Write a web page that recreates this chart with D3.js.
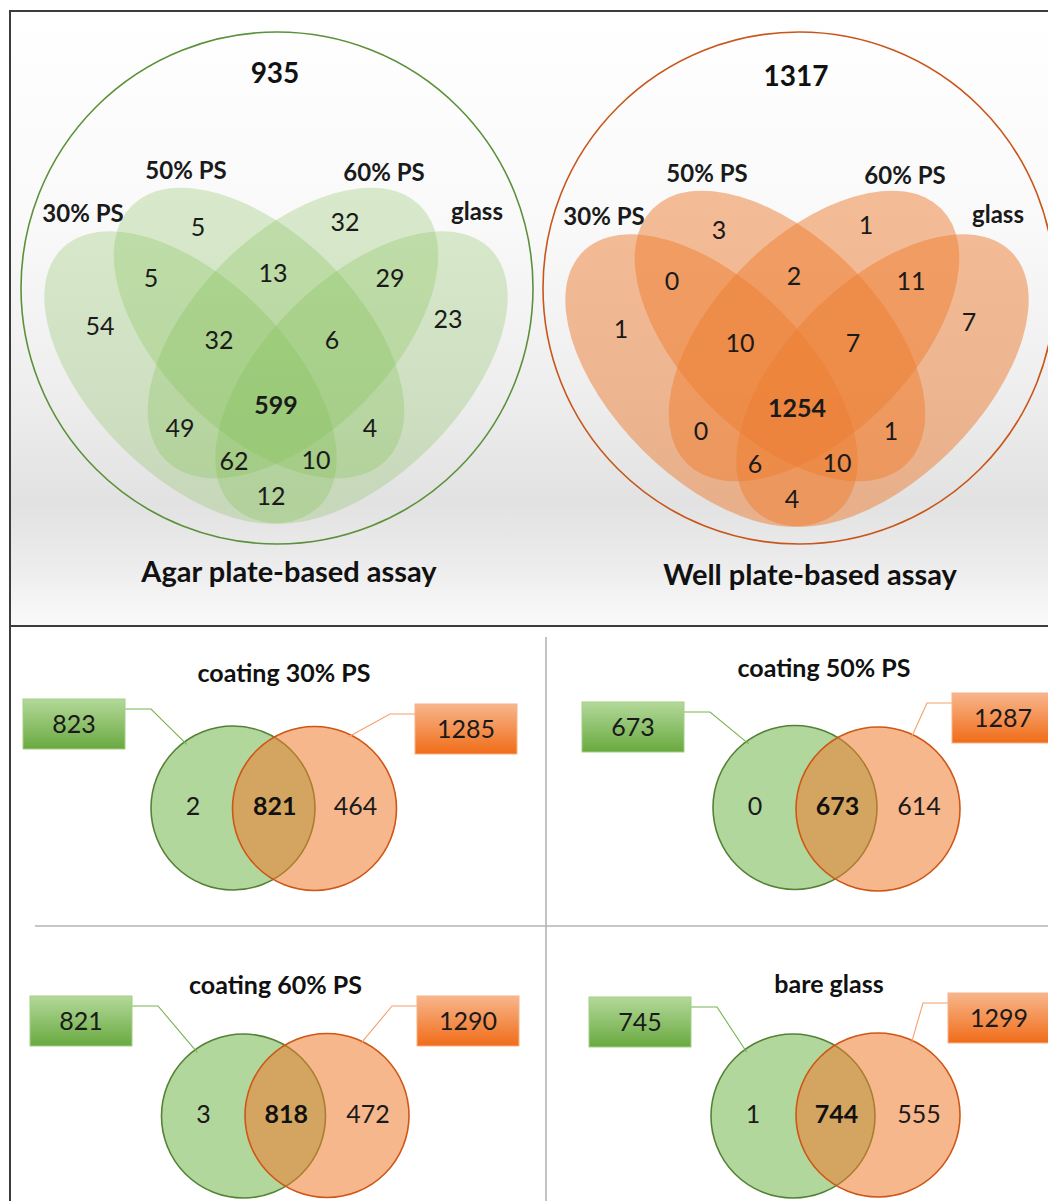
<!DOCTYPE html>
<html>
<head>
<meta charset="utf-8">
<script src="https://cdn.jsdelivr.net/npm/d3@7"></script>
<style>
  html, body { margin: 0; padding: 0; background: #ffffff; }
  svg { display: block; font-family: Lato, "Open Sans", "DejaVu Sans", sans-serif; }
</style>
</head>
<body>
<svg id="fig" width="1048" height="1201"></svg>
<script>
// ---- data ----
const setNames = ["30% PS", "50% PS", "60% PS", "glass"];
// region keys: letters A..D refer to setNames in order
const regionKeys = ["A", "B", "C", "D", "AB", "BC", "CD", "ABC", "BCD", "ABCD", "AC", "BD", "ACD", "ABD", "AD"];
const agarCounts = [54, 5, 32, 23, 5, 13, 29, 32, 6, 599, 49, 4, 62, 10, 12];
const wellCounts = [1, 3, 1, 7, 0, 2, 11, 10, 7, 1254, 0, 1, 6, 10, 4];
const assayNames = ["Agar plate-based assay", "Well plate-based assay"];

const pairTitles = ["coating 30% PS", "coating 50% PS", "coating 60% PS", "bare glass"];
const agarOnly = [2, 0, 3, 1];
const sharedBoth = [821, 673, 818, 744];
const wellOnly = [464, 614, 472, 555];

// ---- layout ----
const W = 1048, H = 1201;
const svg = d3.select("#fig");
const defs = svg.append("defs");

const bgGrad = defs.append("linearGradient").attr("id", "bgTop")
  .attr("x1", 0).attr("y1", 0).attr("x2", 0).attr("y2", 1);
[[0, "#ffffff"], [0.35, "#f9f9f9"], [0.62, "#eeeeee"], [0.8, "#e2e2e2"], [0.9, "#ececec"], [1, "#fafafa"]]
  .forEach(([o, c]) => bgGrad.append("stop").attr("offset", o).attr("stop-color", c));

const gBoxGrad = defs.append("linearGradient").attr("id", "gBox")
  .attr("x1", 0).attr("y1", 0).attr("x2", 0).attr("y2", 1);
gBoxGrad.append("stop").attr("offset", 0).attr("stop-color", "#b3d99a");
gBoxGrad.append("stop").attr("offset", 1).attr("stop-color", "#69a93f");
const oBoxGrad = defs.append("linearGradient").attr("id", "oBox")
  .attr("x1", 0).attr("y1", 0).attr("x2", 0).attr("y2", 1);
oBoxGrad.append("stop").attr("offset", 0).attr("stop-color", "#f8b68c");
oBoxGrad.append("stop").attr("offset", 1).attr("stop-color", "#f06c18");

const blur = defs.append("filter").attr("id", "soft").attr("x", "-20%").attr("y", "-20%").attr("width", "140%").attr("height", "140%");
blur.append("feGaussianBlur").attr("stdDeviation", 2.5);

// top panel background and frame
svg.append("rect").attr("x", 10).attr("y", 10).attr("width", W).attr("height", 616)
  .attr("fill", "url(#bgTop)");
svg.append("line").attr("x1", 10).attr("x2", W).attr("y1", 11).attr("y2", 11)
  .attr("stroke", "#3c3c3c").attr("stroke-width", 2);
svg.append("line").attr("x1", 10).attr("x2", 10).attr("y1", 10).attr("y2", H)
  .attr("stroke", "#3c3c3c").attr("stroke-width", 2);
svg.append("line").attr("x1", 10).attr("x2", W).attr("y1", 626).attr("y2", 626)
  .attr("stroke", "#3c3c3c").attr("stroke-width", 2);

// bottom dividers with soft shadow
const divs = svg.append("g");
divs.append("line").attr("x1", 549).attr("x2", 549).attr("y1", 640).attr("y2", H)
  .attr("stroke", "#d0d0d0").attr("stroke-width", 4).attr("filter", "url(#soft)");
divs.append("line").attr("x1", 38).attr("x2", W).attr("y1", 929).attr("y2", 929)
  .attr("stroke", "#d0d0d0").attr("stroke-width", 4).attr("filter", "url(#soft)");
divs.append("line").attr("x1", 546).attr("x2", 546).attr("y1", 637).attr("y2", H)
  .attr("stroke", "#b4b4b4").attr("stroke-width", 1.6);
divs.append("line").attr("x1", 35).attr("x2", W).attr("y1", 926).attr("y2", 926)
  .attr("stroke", "#b4b4b4").attr("stroke-width", 1.6);

// ---- four-set Venn ----
// ellipse geometry in pixel offsets from the Venn centre
const ellipses = [
  { cx: -85.5, cy: -2.5, a: 182, b: 98, rot: 45 },
  { cx: -17, cy: -47, a: 180, b: 99, rot: 45 },
  { cx: 17, cy: -47, a: 180, b: 99, rot: -45 },
  { cx: 85.5, cy: -2.5, a: 182, b: 98, rot: -45 }
];
// label anchors for each region, same order as regionKeys
const regionAnchors = {
  A: [-176, -54], B: [-78, -153], C: [69, -158], D: [172, -61],
  AB: [-125, -102], BC: [-3, -107], CD: [114, -102],
  ABC: [-57, -40], BCD: [56, -40], ABCD: [0, 25],
  AC: [-96, 48], BD: [94, 48], ACD: [-42, 81], ABD: [40, 80], AD: [-5, 116]
};
const setAnchors = [[-193, -167], [-90, -210], [108, -208], [201, -169]];

const venns = [
  { cx: 276, cy: 380, counts: agarCounts, name: assayNames[0], fill: "#7dbe50", op: 0.28,
    ring: "#5b913a", ringC: [1, -92] },
  { cx: 797, cy: 383, counts: wellCounts, name: assayNames[1], fill: "#ed7d31", op: 0.5,
    ring: "#c8561a", ringC: [2, -95] }
];

venns.forEach(v => {
  const x = d3.scaleLinear().domain([-1, 1]).range([v.cx - 1, v.cx + 1]);
  const y = d3.scaleLinear().domain([-1, 1]).range([v.cy - 1, v.cy + 1]);
  const g = svg.append("g");
  const total = d3.sum(v.counts);

  g.append("ellipse")
    .attr("cx", x(v.ringC[0])).attr("cy", y(v.ringC[1]))
    .attr("rx", 256).attr("ry", 256)
    .attr("fill", "none").attr("stroke", v.ring).attr("stroke-width", 1.6);

  g.selectAll("ellipse.set").data(ellipses).join("ellipse")
    .attr("class", "set")
    .attr("cx", 0).attr("cy", 0).attr("rx", d => d.a).attr("ry", d => d.b)
    .attr("transform", d => `translate(${x(d.cx)},${y(d.cy)}) rotate(${d.rot})`)
    .attr("fill", v.fill).attr("fill-opacity", v.op);

  g.selectAll("text.region").data(regionKeys.map((k, i) => ({ k, n: v.counts[i] }))).join("text")
    .attr("class", "region")
    .attr("x", d => x(regionAnchors[d.k][0])).attr("y", d => y(regionAnchors[d.k][1]))
    .attr("dy", "0.36em").attr("text-anchor", "middle")
    .attr("font-size", 25)
    .attr("font-weight", d => d.k === "ABCD" ? 700 : 400)
    .attr("fill", "#1a1a1a")
    .text(d => d.n);

  g.selectAll("text.set").data(setNames).join("text")
    .attr("class", "set")
    .attr("x", (d, i) => x(setAnchors[i][0])).attr("y", (d, i) => y(setAnchors[i][1]))
    .attr("dy", "0.36em").attr("text-anchor", "middle")
    .attr("font-size", 24).attr("font-weight", 700).attr("fill", "#1a1a1a")
    .text(d => d);

  g.append("text").attr("x", x(-1)).attr("y", y(-307)).attr("dy", "0.36em")
    .attr("text-anchor", "middle").attr("font-size", 28).attr("font-weight", 700)
    .attr("fill", "#111").text(total);

  g.append("text").attr("x", x(13)).attr("y", y(192)).attr("dy", "0.36em")
    .attr("text-anchor", "middle").attr("font-size", 29).attr("font-weight", 700)
    .attr("fill", "#111").text(v.name);
});

// ---- pairwise two-set Venns ----
const pairLayout = [
  { g: [233, 808], o: [314.5, 808.5], title: [284, 673], gBox: [23, 699], oBox: [415, 704] },
  { g: [795, 807.5], o: [878, 809], title: [824, 668], gBox: [582, 702], oBox: [952, 693] },
  { g: [243.5, 1116], o: [327, 1115.5], title: [275.5, 985], gBox: [30, 996], oBox: [417, 996] },
  { g: [793, 1116], o: [878, 1115], title: [829, 984], gBox: [589, 997], oBox: [948, 993] }
];
const R = 82, boxW = 102, boxH = 50;

pairTitles.forEach((title, i) => {
  const L = pairLayout[i];
  const g = svg.append("g");
  const agarTotal = agarOnly[i] + sharedBoth[i];
  const wellTotal = sharedBoth[i] + wellOnly[i];

  g.append("text").attr("x", L.title[0]).attr("y", L.title[1]).attr("dy", "0.36em")
    .attr("text-anchor", "middle").attr("font-size", 25).attr("font-weight", 700)
    .attr("fill", "#111").text(title);

  g.append("circle").attr("cx", L.g[0]).attr("cy", L.g[1]).attr("r", R)
    .attr("fill", "#b2d79c").attr("stroke", "#548235").attr("stroke-width", 1.6);
  g.append("circle").attr("cx", L.o[0]).attr("cy", L.o[1]).attr("r", R)
    .attr("fill", "#f07c30").attr("fill-opacity", 0.55)
    .attr("stroke", "#cf5614").attr("stroke-width", 1.6);

  // leader lines from boxes to circles
  const ga = -126 * Math.PI / 180, oa = -65 * Math.PI / 180;
  const gEnd = [L.g[0] + 0.96 * R * Math.cos(ga), L.g[1] + 0.96 * R * Math.sin(ga)];
  const oEnd = [L.o[0] + 0.96 * R * Math.cos(oa), L.o[1] + 0.96 * R * Math.sin(oa)];
  const line = d3.line();
  g.append("path")
    .attr("d", line([[L.gBox[0] + boxW, L.gBox[1] + 10], [L.gBox[0] + boxW + 26, L.gBox[1] + 10], gEnd]))
    .attr("fill", "none").attr("stroke", "#78b351").attr("stroke-width", 1.1);
  g.append("path")
    .attr("d", line([[L.oBox[0], L.oBox[1] + 10], [L.oBox[0] - 25, L.oBox[1] + 10], oEnd]))
    .attr("fill", "none").attr("stroke", "#f5a06a").attr("stroke-width", 1.1);

  // total boxes
  g.append("rect").attr("x", L.gBox[0]).attr("y", L.gBox[1]).attr("width", boxW).attr("height", boxH)
    .attr("fill", "url(#gBox)").attr("stroke", "#a3cf86").attr("stroke-width", 1);
  g.append("text").attr("x", L.gBox[0] + boxW / 2).attr("y", L.gBox[1] + boxH / 2).attr("dy", "0.36em")
    .attr("text-anchor", "middle").attr("font-size", 25).attr("fill", "#1a1a1a").text(agarTotal);
  g.append("rect").attr("x", L.oBox[0]).attr("y", L.oBox[1]).attr("width", boxW).attr("height", boxH)
    .attr("fill", "url(#oBox)").attr("stroke", "#f6b48a").attr("stroke-width", 1);
  g.append("text").attr("x", L.oBox[0] + boxW / 2).attr("y", L.oBox[1] + boxH / 2).attr("dy", "0.36em")
    .attr("text-anchor", "middle").attr("font-size", 25).attr("fill", "#1a1a1a").text(wellTotal);

  // region counts
  const midX = (L.g[0] + L.o[0]) / 2, midY = (L.g[1] + L.o[1]) / 2 - 2;
  g.append("text").attr("x", L.g[0] - 40).attr("y", midY).attr("dy", "0.36em")
    .attr("text-anchor", "middle").attr("font-size", 25).attr("fill", "#1a1a1a").text(agarOnly[i]);
  g.append("text").attr("x", midX + 1).attr("y", midY).attr("dy", "0.36em")
    .attr("text-anchor", "middle").attr("font-size", 25).attr("font-weight", 700)
    .attr("fill", "#111").text(sharedBoth[i]);
  g.append("text").attr("x", L.o[0] + 41).attr("y", midY).attr("dy", "0.36em")
    .attr("text-anchor", "middle").attr("font-size", 25).attr("fill", "#1a1a1a").text(wellOnly[i]);
});
</script>
</body>
</html>
